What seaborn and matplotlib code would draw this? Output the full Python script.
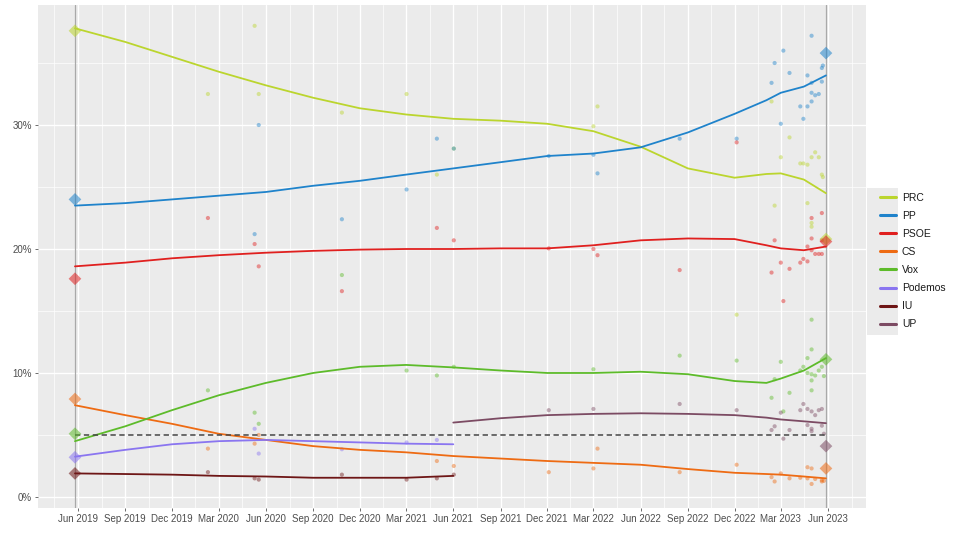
import pandas as pd
import matplotlib
matplotlib.use("Agg")
import matplotlib.pyplot as plt
import matplotlib.dates as mdates
from matplotlib.patches import Rectangle
import seaborn as sns

# Parties and colours
parties = ["PRC", "PP", "PSOE", "CS", "Vox", "Podemos", "IU", "UP"]
party_colors = ["#BBD52E", "#1F83CB", "#E0201F", "#EE6B13",
                "#5DBB2A", "#8A75F0", "#6E1616", "#7C4B63"]

# Smoothed trend lines
trend_dates = ["2019-05-26", "2019-09-01", "2019-12-01", "2020-03-01", "2020-06-01",
               "2020-09-01", "2020-12-01", "2021-03-01", "2021-06-01", "2021-09-01",
               "2021-12-01", "2022-03-01", "2022-06-01", "2022-09-01", "2022-12-01",
               "2023-02-01", "2023-03-01", "2023-04-15", "2023-05-28"]
prc_trend = [37.8, 36.7, 35.5, 34.3, 33.2, 32.2, 31.35, 30.85, 30.5, 30.35,
             30.1, 29.5, 28.25, 26.5, 25.75, 26.05, 26.1, 25.6, 24.5]
pp_trend = [23.5, 23.7, 24.0, 24.3, 24.6, 25.1, 25.5, 26.0, 26.5, 27.0,
            27.5, 27.7, 28.2, 29.4, 30.9, 32.0, 32.6, 33.1, 34.0]
psoe_trend = [18.6, 18.9, 19.25, 19.5, 19.7, 19.85, 19.95, 20.0, 20.0, 20.05,
              20.05, 20.3, 20.7, 20.85, 20.8, 20.3, 20.05, 19.9, 20.2]
cs_trend = [7.4, 6.6, 5.9, 5.1, 4.6, 4.1, 3.8, 3.6, 3.3, 3.1,
            2.9, 2.75, 2.6, 2.25, 1.95, 1.85, 1.8, 1.65, 1.5]
vox_trend = [4.5, 5.7, 7.0, 8.2, 9.2, 10.0, 10.5, 10.65, 10.45, 10.2,
             10.0, 10.0, 10.1, 9.9, 9.35, 9.2, 9.55, 10.2, 11.2]
podemos_trend = [3.25, 3.8, 4.25, 4.5, 4.6, 4.5, 4.4, 4.3, 4.25]
iu_trend = [1.9, 1.85, 1.8, 1.7, 1.65, 1.55, 1.55, 1.55, 1.7]
up_trend = [6.0, 6.35, 6.6, 6.7, 6.75, 6.7, 6.6, 6.4, 6.25, 6.1, 5.95]

# Individual polls
prc_poll_dates = ["2020-02-09", "2020-05-10", "2020-05-18", "2020-10-27", "2021-03-02",
                  "2021-04-30", "2021-06-02", "2022-03-01", "2022-03-09", "2022-12-05",
                  "2023-02-11", "2023-02-17", "2023-03-01", "2023-03-18", "2023-04-08",
                  "2023-04-14", "2023-04-22", "2023-04-22", "2023-04-30", "2023-04-30",
                  "2023-04-30", "2023-05-07", "2023-05-14", "2023-05-20", "2023-05-22"]
prc_poll_vals = [32.5, 38.0, 32.5, 31.0, 32.5, 26.0, 28.1, 29.9, 31.5, 14.7,
                 31.9, 23.5, 27.4, 29.0, 26.9, 26.9, 26.8, 23.7, 27.4, 22.1,
                 21.8, 27.8, 27.4, 26.0, 25.8]

pp_poll_dates = ["2020-05-10", "2020-05-18", "2020-10-27", "2021-03-02", "2021-04-30",
                 "2021-06-02", "2021-12-04", "2022-03-01", "2022-03-09", "2022-08-16",
                 "2022-12-05", "2023-02-11", "2023-02-17", "2023-03-01", "2023-03-06",
                 "2023-03-18", "2023-04-08", "2023-04-14", "2023-04-22", "2023-04-22",
                 "2023-04-30", "2023-04-30", "2023-04-30", "2023-04-30", "2023-05-07",
                 "2023-05-14", "2023-05-20", "2023-05-20", "2023-05-22"]
pp_poll_vals = [21.2, 30.0, 22.4, 24.8, 28.9, 28.1, 27.5, 27.6, 26.1, 28.9,
                28.9, 33.4, 35.0, 30.1, 36.0, 34.2, 31.5, 30.5, 34.0, 31.5,
                37.2, 33.4, 32.6, 31.9, 32.4, 32.5, 34.6, 33.5, 34.8]

psoe_poll_dates = ["2020-02-09", "2020-05-10", "2020-05-18", "2020-10-27", "2021-04-30",
                   "2021-06-02", "2021-12-04", "2022-03-01", "2022-03-09", "2022-08-16",
                   "2022-12-05", "2023-02-11", "2023-02-17", "2023-03-01", "2023-03-06",
                   "2023-03-18", "2023-04-08", "2023-04-14", "2023-04-22", "2023-04-22",
                   "2023-04-30", "2023-04-30", "2023-04-30", "2023-05-07", "2023-05-14",
                   "2023-05-20", "2023-05-20", "2023-05-20"]
psoe_poll_vals = [22.5, 20.4, 18.6, 16.6, 21.7, 20.7, 20.05, 20.0, 19.5, 18.3,
                  28.6, 18.1, 20.7, 18.9, 15.8, 18.4, 18.9, 19.2, 19.0, 20.2,
                  19.9, 20.85, 22.5, 19.6, 19.6, 19.6, 20.7, 22.9]

cs_poll_dates = ["2020-02-09", "2020-05-10", "2020-05-18", "2021-04-30", "2021-06-02",
                 "2021-12-04", "2022-03-01", "2022-03-09", "2022-08-16", "2022-12-05",
                 "2023-02-11", "2023-02-17", "2023-03-01", "2023-03-18", "2023-04-08",
                 "2023-04-22", "2023-04-22", "2023-04-30", "2023-04-30", "2023-05-07",
                 "2023-05-20", "2023-05-20", "2023-05-24"]
cs_poll_vals = [3.9, 4.3, 5.0, 2.9, 2.5, 2.0, 2.3, 3.9, 2.0, 2.6,
                1.6, 1.25, 1.9, 1.5, 1.55, 1.5, 2.4, 2.3, 1.05, 1.45,
                1.35, 1.25, 1.3]

vox_poll_dates = ["2020-02-09", "2020-05-10", "2020-05-18", "2020-10-27", "2021-03-02",
                  "2021-04-30", "2021-06-02", "2022-03-01", "2022-08-16", "2022-12-05",
                  "2023-02-11", "2023-02-17", "2023-03-01", "2023-03-06", "2023-03-18",
                  "2023-04-08", "2023-04-14", "2023-04-22", "2023-04-22", "2023-04-30",
                  "2023-04-30", "2023-04-30", "2023-04-30", "2023-04-30", "2023-05-07",
                  "2023-05-14", "2023-05-20", "2023-05-24"]
vox_poll_vals = [8.6, 6.8, 5.9, 17.9, 10.2, 9.8, 10.5, 10.3, 11.4, 11.0,
                 8.0, 9.5, 10.9, 6.9, 8.4, 10.2, 10.5, 11.2, 10.0, 14.3,
                 11.9, 9.9, 9.4, 8.6, 9.8, 10.2, 10.5, 9.75]

podemos_poll_dates = ["2020-05-10", "2020-05-18", "2020-10-27", "2021-03-02", "2021-04-30"]
podemos_poll_vals = [5.5, 3.5, 3.85, 4.4, 4.6]

iu_poll_dates = ["2020-02-09", "2020-05-10", "2020-05-18", "2020-10-27", "2021-03-02",
                 "2021-04-30", "2021-06-02"]
iu_poll_vals = [2.0, 1.5, 1.4, 1.8, 1.4, 1.5, 1.8]

up_poll_dates = ["2021-12-04", "2022-03-01", "2022-08-16", "2022-12-05", "2023-02-11",
                 "2023-02-17", "2023-03-01", "2023-03-06", "2023-03-18", "2023-04-08",
                 "2023-04-14", "2023-04-22", "2023-04-22", "2023-04-30", "2023-04-30",
                 "2023-04-30", "2023-05-07", "2023-05-14", "2023-05-20", "2023-05-20",
                 "2023-05-24"]
up_poll_vals = [7.0, 7.1, 7.5, 7.0, 5.4, 5.7, 6.8, 4.7, 5.4, 7.0,
                7.5, 7.1, 5.8, 6.9, 5.5, 5.3, 6.6, 7.0, 7.1, 5.75, 5.1]

# Election results
election_dates = ["2019-05-26", "2023-05-28"]
result_2019_parties = ["PRC", "PP", "PSOE", "CS", "Vox", "Podemos", "IU"]
result_2019_vals = [37.6, 24.0, 17.6, 7.9, 5.1, 3.2, 1.9]
result_2023_parties = ["PP", "PRC", "PSOE", "Vox", "UP", "CS"]
result_2023_vals = [35.8, 20.8, 20.6, 11.1, 4.1, 2.3]

threshold = 5
y_ticks = [0, 10, 20, 30]
y_tick_labels = ["0%", "10%", "20%", "30%"]

# Long-form tables
trend_parts = [
    ("PRC", trend_dates, prc_trend), ("PP", trend_dates, pp_trend),
    ("PSOE", trend_dates, psoe_trend), ("CS", trend_dates, cs_trend),
    ("Vox", trend_dates, vox_trend), ("Podemos", trend_dates[:9], podemos_trend),
    ("IU", trend_dates[:9], iu_trend), ("UP", trend_dates[8:], up_trend),
]
trend_df = pd.concat([pd.DataFrame({"party": p, "date": pd.to_datetime(d), "value": v})
                      for p, d, v in trend_parts], ignore_index=True)

poll_parts = [
    ("PRC", prc_poll_dates, prc_poll_vals), ("PP", pp_poll_dates, pp_poll_vals),
    ("PSOE", psoe_poll_dates, psoe_poll_vals), ("CS", cs_poll_dates, cs_poll_vals),
    ("Vox", vox_poll_dates, vox_poll_vals), ("Podemos", podemos_poll_dates, podemos_poll_vals),
    ("IU", iu_poll_dates, iu_poll_vals), ("UP", up_poll_dates, up_poll_vals),
]
poll_df = pd.concat([pd.DataFrame({"party": p, "date": pd.to_datetime(d), "value": v})
                     for p, d, v in poll_parts], ignore_index=True)

result_df = pd.concat([
    pd.DataFrame({"party": result_2019_parties, "date": pd.to_datetime(election_dates[0]),
                  "value": result_2019_vals}),
    pd.DataFrame({"party": result_2023_parties, "date": pd.to_datetime(election_dates[1]),
                  "value": result_2023_vals}),
], ignore_index=True)

palette = dict(zip(parties, party_colors))

sns.set_theme(style="darkgrid", rc={"axes.facecolor": "#EBEBEB",
                                    "grid.color": "white"})
plt.rcParams["font.family"] = ["Liberation Sans", "DejaVu Sans"]

fig = plt.figure(figsize=(9.6, 5.34), dpi=100)
ax = fig.add_axes([38 / 960, 26 / 534, 828 / 960, 503 / 534])

# election day markers
for d in election_dates:
    ax.axvline(pd.Timestamp(d), color="#A9A9A9", lw=0.9, zorder=1)

sns.scatterplot(data=poll_df, x="date", y="value", hue="party", palette=palette,
                hue_order=parties, s=9, alpha=0.45, linewidth=0, legend=False,
                ax=ax, zorder=2)
sns.lineplot(data=trend_df, x="date", y="value", hue="party", palette=palette,
             hue_order=parties, lw=1.3, ax=ax, zorder=3)
ax.hlines(threshold, pd.Timestamp(election_dates[0]), pd.Timestamp(election_dates[1]),
          colors="#444444", lw=1.1, linestyles=(0, (3.5, 2.3)), zorder=3)
sns.scatterplot(data=result_df, x="date", y="value", hue="party", palette=palette,
                hue_order=parties, marker="D", s=42, alpha=0.55, linewidth=0,
                legend=False, ax=ax, zorder=4)

# axes
ax.set_xlim(pd.Timestamp("2019-03-15"), pd.Timestamp("2023-08-14"))
ax.set_ylim(-0.89, 39.68)
ax.xaxis.set_major_locator(mdates.MonthLocator(bymonth=[3, 6, 9, 12]))
ax.xaxis.set_major_formatter(mdates.DateFormatter("%b %Y"))
majors = list(mdates.date2num(pd.date_range("2019-03-01", "2023-09-01", freq="QS-MAR")))
ax.set_xticks([(a + b) / 2 for a, b in zip(majors[:-1], majors[1:])], minor=True)
ax.set_yticks(y_ticks)
ax.set_yticklabels(y_tick_labels)
ax.set_yticks([5, 15, 25, 35], minor=True)
ax.grid(which="major", color="white", lw=1.0)
ax.grid(which="minor", color="white", lw=0.5)
ax.tick_params(which="major", length=2.5, width=0.5, color="#333333",
               labelsize=7, labelcolor="#4D4D4D", pad=2, bottom=True, left=True)
ax.tick_params(which="minor", length=0)
ax.set_xlabel("")
ax.set_ylabel("")
for s in ax.spines.values():
    s.set_visible(False)

# legend (ggplot style, keys on grey)
handles, labels = ax.get_legend_handles_labels()
ax.get_legend().remove()
fig.add_artist(Rectangle((867 / 960, 1 - 335 / 534), 31 / 960, 147 / 534,
                         transform=fig.transFigure, facecolor="#EBEBEB",
                         edgecolor="none", zorder=0))
leg = fig.legend(handles, labels, loc="center left", bbox_to_anchor=(880 / 960, 1 - 261 / 534),
                 frameon=False, fontsize=7.5, handlelength=1.5, handletextpad=0.6,
                 labelspacing=0.78, borderpad=0, borderaxespad=0)
for line in leg.get_lines():
    line.set_linewidth(2.2)
for t in leg.get_texts():
    t.set_color("#1A1A1A")

fig.savefig("out.png", dpi=100)
